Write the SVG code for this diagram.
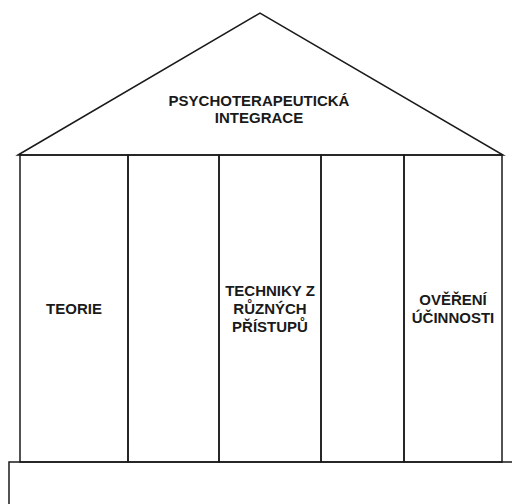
<svg xmlns="http://www.w3.org/2000/svg" width="512" height="504" viewBox="0 0 512 504">
<style>
.ln{fill:none;stroke:#1a1a1a;stroke-width:1.5;stroke-linejoin:miter}
.t{font-family:"Liberation Sans",Arial,sans-serif;font-weight:bold;font-size:15px;fill:#1a1a1a;text-anchor:middle}
</style>
<rect width="512" height="504" fill="#fff"/>
<g id="roof">
<path class="ln" d="M18,155 L260,13 L503,155 Z"/>
<text class="t" x="259" y="106">PSYCHOTERAPEUTICKÁ</text>
<text class="t" x="259" y="122.5">INTEGRACE</text>
</g>
<g id="col-teorie">
<rect class="ln" x="20" y="155" width="108" height="307"/>
<text class="t" x="74" y="314">TEORIE</text>
</g>
<g id="col-2">
<rect class="ln" x="128" y="155" width="91" height="307"/>
</g>
<g id="col-techniky">
<rect class="ln" x="219" y="155" width="102" height="307"/>
<text class="t" x="270" y="296">TECHNIKY Z</text>
<text class="t" x="270" y="313.5">RŮZNÝCH</text>
<text class="t" x="270" y="331.5">PŘÍSTUPŮ</text>
</g>
<g id="col-4">
<rect class="ln" x="321" y="155" width="83" height="307"/>
</g>
<g id="col-overeni">
<rect class="ln" x="404" y="155" width="98" height="307"/>
<text class="t" x="453" y="305">OVĚŘENÍ</text>
<text class="t" x="453" y="323">ÚČINNOSTI</text>
</g>
<g id="base">
<path class="ln" d="M9,506 L9,462 L514,462"/>
</g>
</svg>
